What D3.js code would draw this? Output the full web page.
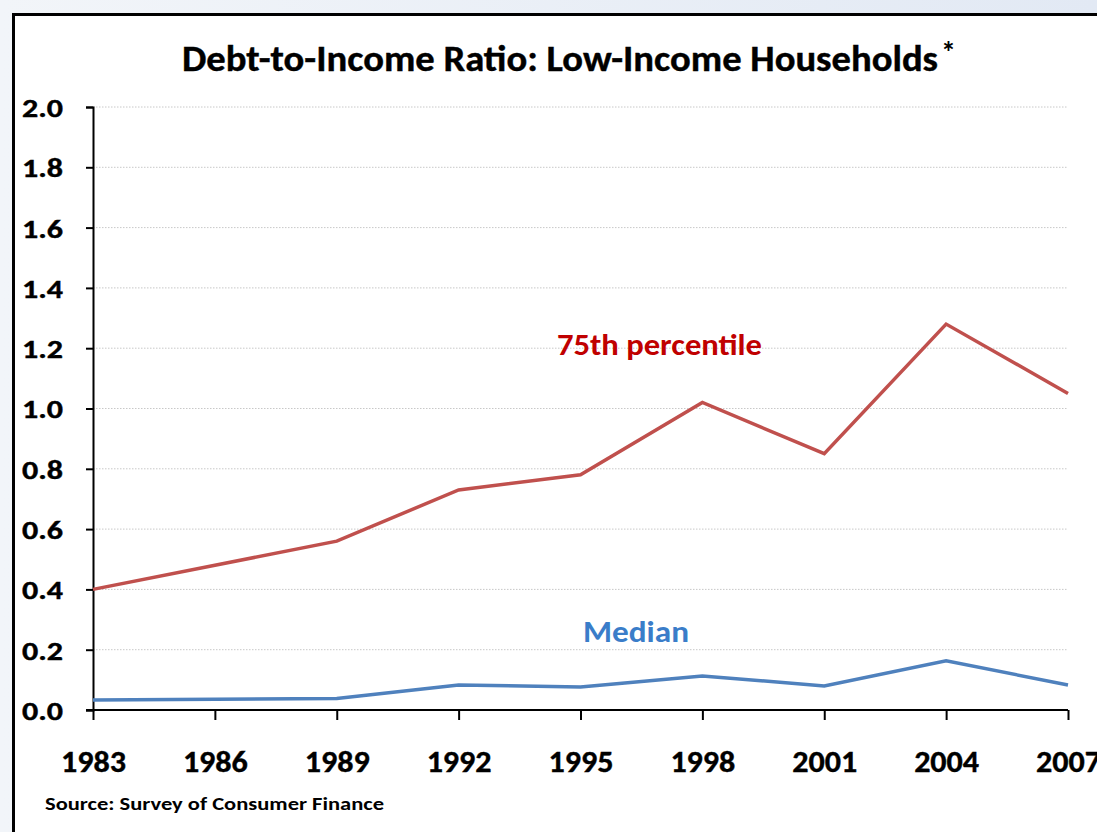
<!DOCTYPE html>
<html><head><meta charset="utf-8">
<script src="https://cdn.jsdelivr.net/npm/d3@7"></script>
<style>html,body{margin:0;padding:0;overflow:hidden;}svg{display:block;}</style>
</head><body>
<svg id="chart" width="1097" height="832"></svg>
<script>
const years = [1983, 1989, 1992, 1995, 1998, 2001, 2004, 2007];
const p75 = [0.40, 0.56, 0.73, 0.78, 1.02, 0.85, 1.28, 1.05];
const median = [0.033, 0.038, 0.083, 0.076, 0.113, 0.08, 0.163, 0.083];
const xTicks = [1983, 1986, 1989, 1992, 1995, 1998, 2001, 2004, 2007];
const yTicks = [0.0, 0.2, 0.4, 0.6, 0.8, 1.0, 1.2, 1.4, 1.6, 1.8, 2.0];
const title = "Debt-to-Income Ratio: Low-Income Households";
const source = "Source: Survey of Consumer Finance";

const font = "Carlito, Lato, 'Open Sans', sans-serif";
const svg = d3.select("#chart");
const defs = svg.append("defs");
const g = defs.append("linearGradient").attr("id","bg").attr("x1","0").attr("x2","1").attr("y1","0").attr("y2","0");
g.append("stop").attr("offset","0").attr("stop-color","#f2f5f9");
g.append("stop").attr("offset","1").attr("stop-color","#e2e9f4");
svg.append("rect").attr("width",1097).attr("height",832).attr("fill","url(#bg)");
svg.append("rect").attr("x",13.5).attr("y",14.5).attr("width",1100).attr("height",840)
  .attr("fill","#fff").attr("stroke","#000").attr("stroke-width",3);

const x = d3.scaleLinear().domain([1983,2007]).range([93,1068]);
const y = d3.scaleLinear().domain([0,2]).range([710,107]);

// gridlines
svg.append("g").selectAll("line").data(yTicks.filter(d=>d>0)).join("line")
  .attr("x1",93).attr("x2",1068).attr("y1",d=>y(d)).attr("y2",d=>y(d))
  .attr("stroke","#c8c8c8").attr("stroke-width",1).attr("stroke-dasharray","1.5,1.5");

// y axis
const yAxis = svg.append("g").attr("transform","translate(93,0)")
  .call(d3.axisLeft(y).tickValues(yTicks).tickSize(7).tickFormat(d3.format(".1f")).tickPadding(23));
yAxis.select(".domain").attr("stroke","#000").attr("stroke-width",2);
yAxis.selectAll(".tick line").attr("stroke","#000").attr("stroke-width",2);
yAxis.selectAll(".tick text").attr("font-family",font).attr("font-weight","bold")
  .attr("font-size",27).attr("fill","#000").attr("dy","0.35em")
  .attr("stroke","#000").attr("stroke-width",0.4)
  .attr("textLength",41).attr("lengthAdjust","spacingAndGlyphs");

// x axis
const xAxis = svg.append("g").attr("transform","translate(0,710)")
  .call(d3.axisBottom(x).tickValues(xTicks).tickSize(10).tickSizeOuter(0).tickFormat(d3.format("d")).tickPadding(0));
xAxis.select(".domain").attr("stroke","#000").attr("stroke-width",2).attr("d","M86,0H1068");
xAxis.selectAll(".tick line").attr("stroke","#000").attr("stroke-width",2);
xAxis.selectAll(".tick text").attr("font-family",font).attr("font-weight","bold")
  .attr("font-size",31).attr("fill","#000").attr("y",62).attr("dy",0)
  .attr("stroke","#000").attr("stroke-width",0.4)
  .attr("textLength",65).attr("lengthAdjust","spacingAndGlyphs");

const line = d3.line().x((d,i)=>x(years[i])).y(d=>y(d));
svg.append("path").datum(p75).attr("d",line).attr("fill","none")
  .attr("stroke","#c0504d").attr("stroke-width",3.5).attr("stroke-linejoin","miter");
svg.append("path").datum(median).attr("d",line).attr("fill","none")
  .attr("stroke","#4f81bd").attr("stroke-width",3.5).attr("stroke-linejoin","miter");

// title
svg.append("text").attr("x",182).attr("y",71).attr("font-family",font).attr("font-weight","bold")
  .attr("font-size",36).attr("fill","#000").attr("stroke","#000").attr("stroke-width",0.4)
  .attr("textLength",756).attr("lengthAdjust","spacingAndGlyphs").text(title);
svg.append("text").attr("x",941).attr("y",62).attr("font-family",font).attr("font-weight","bold")
  .attr("font-size",30).attr("fill","#000").text("*");

// series labels
svg.append("text").attr("x",557).attr("y",355).attr("font-family",font).attr("font-weight","bold")
  .attr("font-size",30).attr("fill","#c00000").attr("textLength",205).attr("lengthAdjust","spacingAndGlyphs").text("75th percentile");
svg.append("text").attr("x",583).attr("y",642).attr("font-family",font).attr("font-weight","bold")
  .attr("font-size",30).attr("fill","#3a7dc9").attr("textLength",106).attr("lengthAdjust","spacingAndGlyphs").text("Median");

// source
svg.append("text").attr("x",45).attr("y",810).attr("font-family",font).attr("font-weight","bold")
  .attr("font-size",18).attr("fill","#000").attr("textLength",339).attr("lengthAdjust","spacingAndGlyphs").text(source);
</script>
</body></html>
